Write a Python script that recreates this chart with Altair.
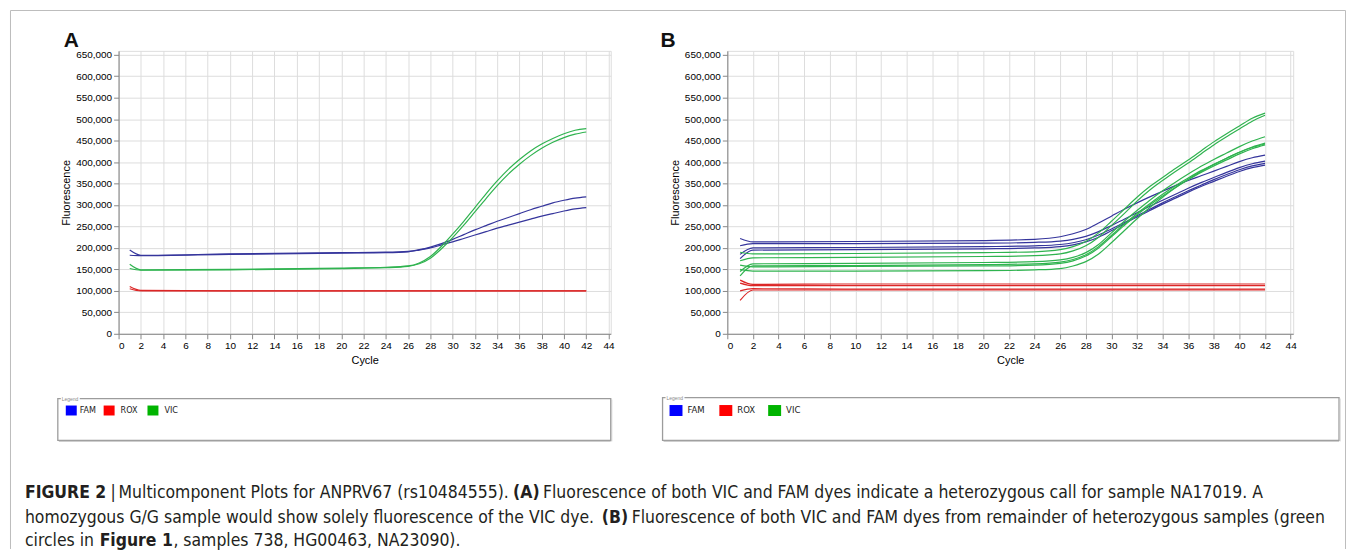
import altair as alt
import pandas as pd

# ---------------- data ----------------
CYCLES = [1, 2, 10, 20, 24, 26, 27, 28, 29, 30, 31, 32, 33, 34, 35, 36, 37, 38, 39, 40, 41, 42]
DYES = ["FAM", "ROX", "VIC"]
LEGEND_COLORS = ["#0000ff", "#ff0000", "#00b400"]
LINE_COLORS = ["#35359c", "#dc2626", "#2fb34f"]
Y_TICKS = [0, 50000, 100000, 150000, 200000, 250000, 300000, 350000, 400000, 450000, 500000, 550000, 600000, 650000]
X_TICKS = [0, 2, 4, 6, 8, 10, 12, 14, 16, 18, 20, 22, 24, 26, 28, 30, 32, 34, 36, 38, 40, 42, 44]

# Panel A
A_FAM_1 = [195000, 183000, 186000, 189000, 190000, 192000, 196000, 202000, 210000, 220000, 231000, 242000, 252000, 262000, 271000, 280000, 289000, 297000, 305000, 311000, 316000, 319000]
A_FAM_2 = [183000, 182000, 185000, 188000, 189000, 191000, 195000, 200000, 207000, 214000, 222000, 230000, 238000, 246000, 253000, 260000, 267000, 274000, 280000, 286000, 291000, 294000]
A_VIC_1 = [162000, 149000, 150000, 153000, 155000, 158000, 165000, 180000, 204000, 232000, 262000, 294000, 326000, 356000, 383000, 406000, 426000, 442000, 455000, 466000, 474000, 478000]
A_VIC_2 = [152000, 148000, 149000, 152000, 154000, 157000, 163000, 176000, 198000, 224000, 253000, 284000, 315000, 345000, 372000, 395000, 415000, 432000, 446000, 457000, 465000, 470000]
A_ROX_1 = [110000, 101000, 100000, 100000, 100000, 100000, 100000, 100000, 100000, 100000, 100000, 100000, 100000, 100000, 100000, 100000, 100000, 100000, 100000, 100000, 100000, 100000]
A_ROX_2 = [105000, 100000, 100000, 100000, 100000, 100000, 100000, 100000, 100000, 100000, 100000, 100000, 100000, 100000, 100000, 100000, 100000, 100000, 100000, 100000, 100000, 100000]

# Panel B
B_FAM_1 = [222000, 214000, 215000, 217000, 220000, 226000, 233000, 243000, 258000, 274000, 290000, 305000, 319000, 332000, 345000, 357000, 368000, 379000, 390000, 401000, 410000, 416000]
B_FAM_2 = [205000, 210000, 210000, 211000, 213000, 216000, 220000, 227000, 238000, 252000, 267000, 282000, 297000, 311000, 325000, 339000, 352000, 364000, 376000, 387000, 396000, 402000]
B_FAM_3 = [185000, 200000, 201000, 203000, 205000, 208000, 212000, 219000, 230000, 244000, 259000, 275000, 290000, 305000, 319000, 333000, 346000, 359000, 371000, 382000, 391000, 397000]
B_FAM_4 = [175000, 195000, 196000, 198000, 200000, 203000, 207000, 214000, 225000, 240000, 256000, 272000, 287000, 302000, 316000, 330000, 343000, 355000, 367000, 378000, 387000, 393000]
B_VIC_1 = [190000, 186000, 187000, 189000, 191000, 196000, 203000, 215000, 235000, 262000, 290000, 318000, 343000, 364000, 385000, 405000, 426000, 447000, 466000, 484000, 502000, 514000]
B_VIC_2 = [170000, 177000, 178000, 180000, 182000, 186000, 193000, 205000, 225000, 252000, 280000, 309000, 335000, 357000, 378000, 398000, 419000, 440000, 459000, 477000, 495000, 509000]
B_VIC_3 = [145000, 163000, 164000, 166000, 168000, 172000, 178000, 189000, 208000, 235000, 262000, 287000, 311000, 333000, 353000, 372000, 390000, 406000, 421000, 436000, 449000, 459000]
B_VIC_4 = [135000, 158000, 159000, 161000, 163000, 167000, 173000, 184000, 203000, 229000, 255000, 280000, 303000, 325000, 345000, 363000, 380000, 395000, 409000, 423000, 435000, 444000]
B_VIC_5 = [160000, 156000, 157000, 158000, 160000, 164000, 170000, 181000, 200000, 226000, 252000, 277000, 300000, 321000, 341000, 359000, 376000, 391000, 405000, 419000, 431000, 440000]
B_VIC_6 = [150000, 146000, 146000, 147000, 149000, 152000, 158000, 168000, 186000, 212000, 240000, 268000, 294000, 318000, 340000, 360000, 378000, 394000, 409000, 423000, 434000, 442000]
B_ROX_1 = [125000, 115000, 116000, 116000, 116000, 116000, 116000, 116000, 116000, 116000, 116000, 116000, 116000, 116000, 116000, 116000, 116000, 116000, 116000, 116000, 116000, 116000]
B_ROX_2 = [118000, 112000, 112000, 112000, 112000, 112000, 112000, 112000, 112000, 112000, 112000, 112000, 112000, 112000, 112000, 112000, 112000, 112000, 112000, 112000, 112000, 112000]
B_ROX_3 = [100000, 105000, 104000, 104000, 104000, 104000, 104000, 104000, 104000, 104000, 104000, 104000, 104000, 104000, 104000, 104000, 104000, 104000, 104000, 104000, 104000, 104000]
B_ROX_4 = [78000, 102000, 102000, 102000, 102000, 102000, 102000, 102000, 102000, 102000, 102000, 102000, 102000, 102000, 102000, 102000, 102000, 102000, 102000, 102000, 102000, 102000]

CAPTION = [
    [("FIGURE 2", True), ("|", False), ("Multicomponent Plots for ANPRV67 (rs10484555).", False), ("(A)", True),
     ("Fluorescence of both VIC and FAM dyes indicate a heterozygous call for sample NA17019. A", False)],
    [("homozygous G/G sample would show solely fluorescence of the VIC dye.", False), ("(B)", True),
     ("Fluorescence of both VIC and FAM dyes from remainder of heterozygous samples (green", False)],
    [("circles in", False), ("Figure 1", True), (", samples 738, HG00463, NA23090).", False)],
]


def to_long(series):
    rows = []
    for dye, name, vals in series:
        for c, v in zip(CYCLES, vals):
            rows.append({"dye": dye, "sample": name, "cycle": c, "value": v})
    return pd.DataFrame(rows)


df_a = to_long([
    ("FAM", "a_fam1", A_FAM_1), ("FAM", "a_fam2", A_FAM_2),
    ("ROX", "a_rox1", A_ROX_1), ("ROX", "a_rox2", A_ROX_2),
    ("VIC", "a_vic1", A_VIC_1), ("VIC", "a_vic2", A_VIC_2),
])
df_b = to_long([
    ("FAM", "b_fam1", B_FAM_1), ("FAM", "b_fam2", B_FAM_2), ("FAM", "b_fam3", B_FAM_3), ("FAM", "b_fam4", B_FAM_4),
    ("ROX", "b_rox1", B_ROX_1), ("ROX", "b_rox2", B_ROX_2), ("ROX", "b_rox3", B_ROX_3), ("ROX", "b_rox4", B_ROX_4),
    ("VIC", "b_vic1", B_VIC_1), ("VIC", "b_vic2", B_VIC_2), ("VIC", "b_vic3", B_VIC_3),
    ("VIC", "b_vic4", B_VIC_4), ("VIC", "b_vic5", B_VIC_5), ("VIC", "b_vic6", B_VIC_6),
])

ONE = pd.DataFrame({"k": [0]})
AXIS_FONT = "Liberation Sans"
CAP_FONT = "DejaVu Sans Condensed"


def text_layer(txt, x, y, size, bold=False, color="#231f20", font=CAP_FONT, align="left", baseline="alphabetic"):
    return alt.Chart(ONE).mark_text(
        text=txt, align=align, baseline=baseline, fontSize=size,
        fontWeight="bold" if bold else "normal", font=font, color=color,
    ).encode(x=alt.value(x), y=alt.value(y))


def rect_layer(x1, x2, y1, y2, fill=None, stroke=None, width=1.0):
    kw = {}
    if fill is not None:
        kw["fill"] = fill
    else:
        kw["fillOpacity"] = 0
    if stroke is not None:
        kw["stroke"] = stroke
        kw["strokeWidth"] = width
    return alt.Chart(ONE).mark_rect(**kw).encode(
        x=alt.value(x1), x2=alt.value(x2), y=alt.value(y1), y2=alt.value(y2))


def rule_layer(x1, x2, y1, y2, color="#bdbdbd", width=1):
    return alt.Chart(ONE).mark_rule(stroke=color, strokeWidth=width).encode(
        x=alt.value(x1), x2=alt.value(x2), y=alt.value(y1), y2=alt.value(y2))


def legend_layers(box, items, sq_w, sq_h, font_size, cy):
    """box = (x1, x2, y1, y2); items = list of (square_x, label_x) relative to panel origin."""
    out = [rect_layer(box[0], box[1], box[2], box[3], stroke="#9c9c9c", width=1.3),
           rule_layer(box[0] + 1, box[1], box[3] + 1, box[3] + 1, color="#c8c8c8", width=1),
           rule_layer(box[1] + 1, box[1] + 1, box[2] + 1, box[3] + 1, color="#c8c8c8", width=1),
           rect_layer(box[0] + 3, box[0] + 22, box[2] - 2, box[2] + 2, fill="white"),
           text_layer("Legend", box[0] + 4, box[2] + 2, 5, color="#8a8a8a", font=AXIS_FONT)]
    for (sx, lx), dye, col in zip(items, DYES, LEGEND_COLORS):
        out.append(rect_layer(sx, sx + sq_w, cy - sq_h / 2, cy + sq_h / 2, fill=col))
        out.append(text_layer(dye, lx, cy, font_size, color="#222", font="DejaVu Sans Condensed",
                              baseline="middle"))
    return out


def panel(df, width, letter, letter_x, legend):
    lines = alt.Chart(df).mark_line(strokeWidth=1.2, interpolate="monotone").encode(
        x=alt.X("cycle:Q", scale=alt.Scale(domain=[0, 44.2], nice=False, zero=False),
                axis=alt.Axis(values=X_TICKS, format="d", title="Cycle", titleFontWeight="normal")),
        y=alt.Y("value:Q", scale=alt.Scale(domain=[0, 659000], nice=False),
                axis=alt.Axis(values=Y_TICKS, format=",d", title="Fluorescence", titleFontWeight="normal")),
        stroke=alt.Stroke("dye:N", scale=alt.Scale(domain=DYES, range=LINE_COLORS), legend=None),
        detail="sample:N",
    )
    layers = [lines,
              text_layer(letter, letter_x, -4, 21, bold=True, color="#111", font="Liberation Sans")]
    layers += legend
    return alt.layer(*layers).properties(width=width, height=284)


# panel A origin on page: (118, 49); panel B origin: (729, 49)
leg_a = legend_layers((-61, 494, 349, 391), [(-53, -39), (-15, 2), (29, 46)], 11, 10, 9, 361)
leg_b = legend_layers((-65, 614, 348, 391), [(-58, -40), (-8, 10), (41, 59)], 13, 11, 9.5, 361)
pa_layers = panel(df_a, 494, "A", -55, leg_a)
pb_layers = panel(df_b, 568, "B", -67, leg_b)

# outer frame and caption attached to panel A (coordinates relative to its origin)
extra = [
    rule_layer(-108.5, -108.5, -40.5, 500),
    rule_layer(1231.5, 1231.5, -40.5, 500),
    rule_layer(-108.5, 1231.5, -40.5, -40.5),
]
cap_y = [449, 474, 497]
cap_x = [
    [-94, -8, 0, 396, 426],
    [-94, 485, 515],
    [-94, -19, 55],
]
for li, segs in enumerate(CAPTION):
    for si, (t, b) in enumerate(segs):
        extra.append(text_layer(t, cap_x[li][si], cap_y[li], 17.5, bold=b))

pa = alt.layer(pa_layers, *extra)

chart = alt.hconcat(pa, pb_layers, spacing=117, bounds="flush").resolve_scale(
    stroke="independent"
).properties(
    padding={"left": 1, "top": 0, "right": 0, "bottom": 0},
).configure_view(
    stroke="#c4c4c4", strokeWidth=1.5
).configure_axis(
    labelFont=AXIS_FONT, labelFontSize=7.5, labelColor="#333",
    titleFont=AXIS_FONT, titleFontSize=9.5, titleFontWeight="normal", titleColor="#222",
    gridColor="#d4d4d4", gridDash=[2, 2], gridWidth=1,
    domainColor="#9a9a9a", domainWidth=1.5, tickColor="#9a9a9a", tickSize=3,
    labelPadding=2, titlePadding=4,
).configure(background="white")

chart.save("out.html", embed_options={"renderer": "svg", "actions": False})
